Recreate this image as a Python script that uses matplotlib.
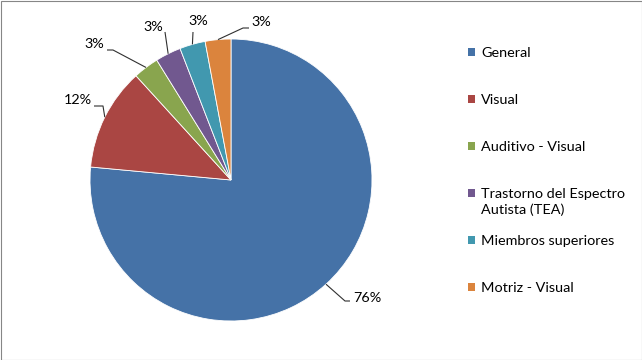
import matplotlib
matplotlib.use('Agg')
import matplotlib.pyplot as plt
import numpy as np
from matplotlib.patches import Rectangle

plt.rcParams['font.family'] = ['Lato', 'DejaVu Sans']

# ---- data ----
categories = ['General', 'Visual', 'Auditivo - Visual',
              'Trastorno del Espectro\nAutista (TEA)',
              'Miembros superiores', 'Motriz - Visual']
counts = [26, 4, 1, 1, 1, 1]
colors = ['#4572A7', '#AA4643', '#89A54E', '#71588F', '#4198AF', '#DB843D']

# ---- layout (pixels) ----
W, H = 642, 360
CX, CY, R = 231, 180, 141
FS = 10.4
TXT = '#000000'


def px(x, y):
    return ((x - CX) / R, (CY - y) / R)


fig = plt.figure(figsize=(W / 100, H / 100), dpi=100)
ax = fig.add_axes([0, 0, 1, 1])
wedges, _ = ax.pie(counts, colors=colors, startangle=90, counterclock=False,
                   radius=1, center=(0, 0),
                   wedgeprops=dict(edgecolor='white', linewidth=0.6))
ax.set_xlim(-CX / R, (W - CX) / R)
ax.set_ylim(-(H - CY) / R, CY / R)
ax.axis('off')

total = sum(counts)
pcts = [c / total * 100 for c in counts]

# data labels with leader lines
label_pos = [(353, 298, 'left'), (92, 100, 'right'), (104, 44, 'right'),
             (153, 27, 'center'), (198, 21, 'center'), (251, 22, 'left')]
elbows = [(345, 301), (103, 106), (113, 50), (165, 32), (193, 32), (243, 28)]
ends = [(350, 301), (94, 106), (107, 50), None, None, (249, 28)]

for w, p, lp, el, en in zip(wedges, pcts, label_pos, elbows, ends):
    th = np.deg2rad((w.theta1 + w.theta2) / 2)
    ex, ey = np.cos(th), np.sin(th)
    pts = [(ex, ey), px(*el)]
    if en is not None:
        pts.append(px(*en))
    xs, ys = zip(*pts)
    ax.plot(xs, ys, color='#303030', lw=0.8, solid_capstyle='butt')
    tx, ty = px(lp[0], lp[1])
    ax.text(tx, ty, f"{round(p)}%", ha=lp[2], va='center', fontsize=FS, color=TXT)

# legend
ly0, lstep = 52, 47
for i, (cat, col) in enumerate(zip(categories, colors)):
    y = ly0 + lstep * i
    sx, sy = px(468, y + 3.5)
    ax.add_patch(Rectangle((sx, sy), 7.5 / R, 7.5 / R, facecolor=col,
                           edgecolor='none', clip_on=False))
    for k, line in enumerate(cat.split('\n')):
        tx, ty = px(481, y + 16 * k + 5)
        ax.text(tx, ty, line, ha='left', va='baseline', fontsize=FS, color=TXT)

# chart border
fig.patches.append(Rectangle((0.5 / W, 0.5 / H), (W - 1) / W, (H - 1) / H,
                             transform=fig.transFigure, fill=False,
                             edgecolor='#868686', lw=0.8))

fig.savefig('out.png', dpi=100)
